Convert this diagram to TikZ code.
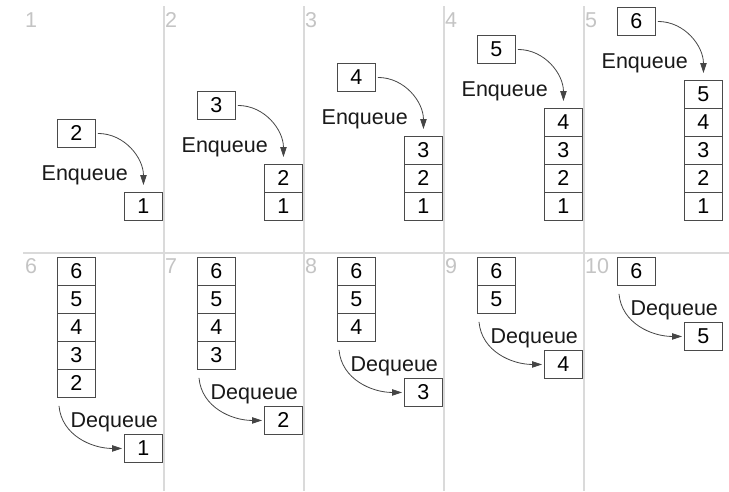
\documentclass[tikz,border=0pt]{standalone}
\usepackage{fontspec}
\setmainfont{Liberation Sans}
\usetikzlibrary{arrows.meta}
\definecolor{rulegray}{HTML}{DADADA}
\definecolor{taggray}{HTML}{C4C4C4}
\definecolor{boxline}{HTML}{4A4A4A}
\definecolor{arrowline}{HTML}{454545}
\newcommand{\qfont}{\fontsize{21.5}{25}\selectfont}
\tikzset{
  cell/.style={draw=boxline, line width=0.9pt, minimum width=38pt, minimum height=28pt,
    inner sep=0pt, anchor=north west, font=\qfont},
  tag/.style={text=taggray, anchor=base west, inner sep=0pt, font=\qfont},
  lbl/.style={anchor=base west, inner sep=0pt, text=black!90, font=\qfont},
  flow/.style={draw=arrowline, line width=0.8pt, -{Triangle[length=10pt,width=6.5pt]}},
  rule/.style={draw=rulegray, line width=1.5pt}
}
\begin{document}
\begin{tikzpicture}[x=1pt,y=-1pt]
\useasboundingbox (0,0) rectangle (729,491);
% panel dividers
\foreach \x in {164,304,444,584} \draw[rule] (\x,6) -- (\x,491);
\draw[rule] (23,253) -- (729,253);
% enqueue steps 1-5
\foreach \k in {1,...,5} {
  \pgfmathsetmacro\L{24+140*(\k-1)}
  \pgfmathsetmacro\sx{\L+100}
  \pgfmathsetmacro\ex{\L+33}
  \pgfmathsetmacro\ey{147-28*\k}
  \node[tag] (n\k) at ({\L+1},27) {\k};
  \foreach \i in {1,...,\k} {
    \pgfmathsetmacro\cy{220-28*\i}
    \node[cell] (c\k-\i) at (\sx,\cy) {\i};
  }
  \pgfmathtruncatemacro\nxt{\k+1}
  \node[cell] (e\k) at (\ex,\ey) {\nxt};
  \node[lbl] (q\k) at ([xshift=-15.5pt,yshift=-33pt]e\k.south west) {Enqueue};
  \draw[flow] ([xshift=2pt]e\k.east) to[out=0,in=90] ([yshift=7pt]c\k-\k.north);
}
% dequeue steps 6-10
\foreach \j in {1,...,5} {
  \pgfmathsetmacro\L{24+140*(\j-1)}
  \pgfmathsetmacro\sx{\L+33}
  \pgfmathsetmacro\ox{\L+100}
  \pgfmathsetmacro\oy{257+28*(6-\j)+37}
  \pgfmathtruncatemacro\tagn{\j+5}
  \node[tag] (m\j) at ({\L+1},273) {\tagn};
  \pgfmathtruncatemacro\last{6-\j-1}
  \foreach \r in {0,...,\last} {
    \pgfmathtruncatemacro\v{6-\r}
    \pgfmathsetmacro\cy{257+28*\r}
    \node[cell] (d\j-\r) at (\sx,\cy) {\v};
  }
  \node[cell] (o\j) at (\ox,\oy) {\j};
  \node[lbl] (p\j) at ([xshift=13.5pt,yshift=-30pt]d\j-\last.south west) {Dequeue};
  \draw[flow] ([xshift=2pt,yshift=-8pt]d\j-\last.south west) to[out=-85,in=180] ([xshift=-2pt]o\j.west);
}
\end{tikzpicture}
\end{document}
